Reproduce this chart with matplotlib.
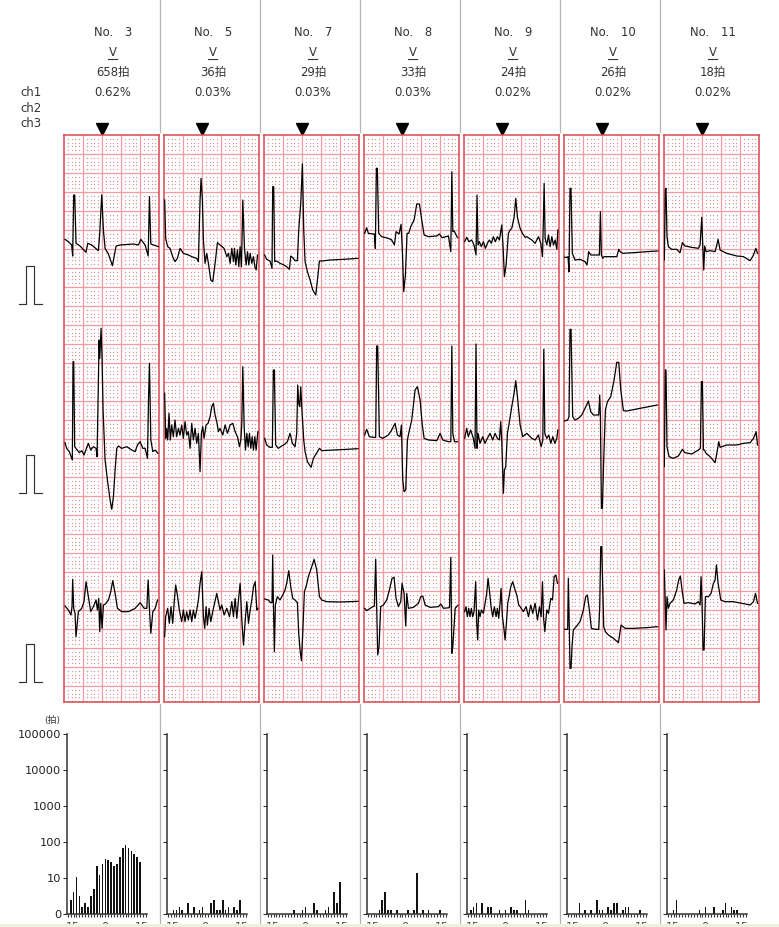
import matplotlib
matplotlib.use("Agg")
import matplotlib.pyplot as plt
from matplotlib.patches import Rectangle
import numpy as np

plt.rcParams['font.family'] = ['DejaVu Sans', 'Noto Sans CJK JP']

W, H = 779, 927

############################################### header data
numbers = [3, 5, 7, 8, 9, 10, 11]
beats = [658, 36, 29, 33, 24, 26, 18]
percents = ["0.62%", "0.03%", "0.03%", "0.03%", "0.02%", "0.02%", "0.02%"]
channels = ["ch1", "ch2", "ch3"]

############################################### histograms (bin index, beat count)
hist_idx_3 = list(range(1, 26))
hist_val_3 = [4, 6, 11, 5, 2, 3, 2, 5, 7, 21, 12, 24, 34, 32, 27, 21, 25, 39, 66, 82, 70, 56, 45, 39, 27]
hist_idx_5 = [2, 3, 4, 5, 7, 9, 11, 12, 15, 16, 17, 18, 19, 20, 21, 23, 24, 25]
hist_val_5 = [1, 1, 2, 1, 3, 2, 1, 2, 3, 4, 1, 1, 4, 1, 2, 2, 1, 4]
hist_idx_7 = [9, 12, 13, 16, 17, 20, 21, 23, 24, 25]
hist_val_7 = [1, 1, 2, 3, 1, 1, 2, 6, 3, 9]
hist_idx_8 = [4, 5, 6, 7, 8, 10, 14, 16, 17, 19, 21, 25]
hist_val_8 = [1, 4, 6, 1, 1, 1, 1, 1, 14, 1, 1, 1]
hist_idx_9 = [1, 2, 3, 5, 7, 8, 11, 13, 15, 16, 17, 20, 21]
hist_val_9 = [1, 2, 3, 3, 2, 2, 1, 1, 2, 1, 1, 4, 1]
hist_idx_10 = [4, 6, 8, 10, 11, 12, 14, 15, 16, 17, 19, 20, 21, 25]
hist_val_10 = [3, 1, 1, 4, 1, 1, 2, 1, 3, 3, 1, 2, 2, 1]
hist_idx_11 = [2, 3, 11, 13, 16, 19, 20, 22, 23, 24]
hist_val_11 = [1, 4, 1, 2, 2, 1, 3, 2, 1, 1]

hist_idx = [hist_idx_3, hist_idx_5, hist_idx_7, hist_idx_8, hist_idx_9, hist_idx_10, hist_idx_11]
hist_val = [hist_val_3, hist_val_5, hist_val_7, hist_val_8, hist_val_9, hist_val_10, hist_val_11]
hist_ticklabels = ["0", "10", "100", "1000", "10000", "100000"]

no3_ch1_x = [195,205,215,218,221,224,228,240,258,263,275,295,299,305,310,315,325,337,348,360,400,415,422,435,444,448,452,475]
no3_ch1_y = [718,725,735,768,585,585,730,738,757,730,735,752,700,585,690,745,762,797,738,735,732,735,718,735,768,590,732,740]
no3_ch2_x = [195,200,208,217,219,221,224,230,238,245,252,258,265,272,280,288,291,294,297,299,303,306,309,315,322,330,335,340,345,350,355,365,380,395,405,412,420,428,435,442,445,448,452,458,465,473]
no3_ch2_y = [428,445,455,480,185,185,440,448,458,452,465,448,430,450,440,445,470,300,120,175,85,175,330,480,540,600,628,590,510,445,438,445,440,450,455,435,425,445,445,475,300,190,420,455,450,460]
no3_ch3_x = [195,205,213,216,218,221,225,228,235,245,252,258,265,272,280,288,292,296,299,302,306,310,316,325,332,338,345,352,365,385,405,420,432,440,444,448,452,458,465,472]
no3_ch3_y = [918,930,945,920,838,925,940,1010,935,925,905,845,890,935,920,900,930,895,995,910,985,915,912,900,875,842,880,925,935,935,925,908,925,925,840,930,1000,935,925,900]

no5_ch1_x = [494,497,503,510,518,525,532,540,550,565,580,590,595,600,603,607,610,615,620,625,632,638,645,652,660,672,680,685,690,695,700,703,707,712,716,720,724,728,733,738,742,746,750,755,760,764,768,772]
no5_ch1_y = [600,715,740,745,770,785,775,745,760,765,772,775,785,600,535,600,720,790,760,790,840,845,790,728,735,745,770,760,790,745,785,745,795,750,800,740,800,600,745,795,755,795,760,790,770,800,810,765]
no5_ch2_x = [494,497,500,503,507,511,515,520,525,530,535,540,545,550,555,560,565,570,575,580,585,590,595,600,604,608,612,618,624,630,635,640,645,650,655,660,668,675,682,690,698,705,712,718,722,725,728,732,736,740,744,748,752,756,760,764,768,773]
no5_ch2_y = [280,415,385,420,340,420,375,410,360,410,385,405,375,415,365,405,395,445,370,420,385,430,400,515,400,380,415,375,370,350,320,310,345,365,395,385,405,375,400,375,370,395,410,440,420,370,200,380,450,400,440,400,445,410,450,410,450,395]
no5_ch3_x = [494,497,503,508,513,518,523,527,532,538,545,550,555,560,565,570,575,580,585,590,595,600,605,610,614,618,622,627,632,640,650,655,660,665,672,680,688,695,700,705,710,715,720,725,730,735,740,745,750,755,760,765,770,773]
no5_ch3_y = [1010,950,925,970,920,970,900,855,885,930,965,930,965,935,960,930,965,930,955,930,900,850,815,950,985,920,975,925,965,925,880,905,930,915,945,925,950,905,950,895,955,900,850,960,1035,965,905,970,930,900,860,845,930,925]

no7_ch1_x = [14,20,30,36,38,41,44,50,60,72,80,88,92,97,105,112,116,122,127,131,135,142,150,158,167,172,178,185,210,250,293]
no7_ch1_y = [375,388,393,415,170,170,395,393,400,405,410,418,378,382,392,392,300,220,102,300,395,425,450,480,495,450,393,393,390,388,385]
no7_ch2_x = [14,20,30,37,40,43,47,55,65,75,82,90,97,105,110,113,116,119,122,125,128,131,135,142,153,160,172,178,185,220,260,293]
no7_ch2_y = [55,75,82,82,-150,-150,75,85,78,72,65,40,70,80,40,-105,-50,-40,-100,-40,10,60,95,125,142,115,95,85,92,90,88,86]
no7_ch3_x = [14,25,32,36,38,40,43,46,52,60,68,75,80,86,92,98,105,112,116,120,124,128,133,138,145,155,162,170,178,185,200,240,293]
no7_ch3_y = [537,540,548,548,405,540,695,555,530,540,525,510,490,452,500,535,540,548,640,690,722,640,515,500,470,440,418,450,530,540,545,546,544]

no8_ch1_x = [314,320,325,340,343,346,349,352,356,365,385,395,403,408,417,423,427,431,436,441,446,452,462,470,478,485,492,505,530,538,546,565,572,575,578,582,592]
no8_ch1_y = [310,293,310,312,312,355,115,115,310,320,325,330,345,305,312,283,365,485,435,310,310,290,270,222,222,270,315,320,318,312,323,318,365,125,305,303,323]
no8_ch2_x = [314,320,328,340,347,350,353,358,368,385,395,405,412,420,424,428,432,437,442,448,455,465,472,480,486,492,505,530,540,548,565,572,575,578,583,592]
no8_ch2_y = [45,28,50,52,52,-222,-222,50,55,45,30,10,45,50,15,180,215,210,60,30,0,-90,-100,-60,10,55,60,62,40,60,65,65,-222,40,65,65]
no8_ch3_x = [314,320,335,343,347,350,353,357,362,370,380,388,396,402,408,415,422,426,432,437,440,445,460,475,482,488,495,510,535,542,550,568,572,575,578,585,593]
no8_ch3_y = [565,572,562,558,418,560,705,680,560,555,540,510,475,472,535,560,545,490,520,618,520,565,562,550,530,528,555,562,560,552,565,563,412,700,680,565,556]

no9_ch1_x = [614,620,627,635,642,648,651,654,658,664,670,676,682,688,694,700,706,712,718,725,729,733,738,745,750,755,762,767,772,780,787,795,800,815,825,835,842,847,850,852,855,860,865,870,875,880,885,890,893]
no9_ch1_y = [335,322,335,330,345,375,195,345,335,350,335,355,340,330,340,320,335,320,330,285,350,440,405,310,300,295,262,205,262,295,310,322,320,330,340,320,340,380,260,160,325,345,315,350,320,345,330,358,300]
no9_ch2_x = [614,620,625,632,640,645,648,651,654,660,668,675,682,690,698,705,712,718,722,725,730,733,737,742,748,755,762,767,772,780,788,800,815,825,835,843,848,851,854,860,866,872,878,884,890,893]
no9_ch2_y = [55,25,50,30,55,85,-228,85,40,70,50,70,55,40,60,40,55,60,5,60,220,150,140,40,5,-40,-80,-118,-70,15,50,40,55,60,45,80,60,-212,40,55,45,70,50,70,55,30]
no9_ch3_x = [614,618,622,626,630,634,638,642,647,650,653,656,660,664,670,676,680,684,688,693,698,703,708,712,716,720,723,727,731,735,739,743,747,752,758,765,770,776,780,790,798,805,812,818,825,832,838,843,847,850,854,860,865,872,877,882,887,892]
no9_ch3_y = [575,560,590,565,590,565,590,575,485,610,660,570,590,570,580,545,520,475,510,560,590,560,590,565,595,550,505,590,620,660,610,550,530,500,485,510,525,555,560,575,560,590,555,580,550,600,560,590,485,590,635,570,580,535,540,470,465,490]

no10_ch1_x = [133,140,144,147,150,153,157,165,180,195,201,206,212,225,238,241,244,248,252,270,290,296,300,308,340,380,412]
no10_ch1_y = [382,382,380,425,175,175,370,390,388,395,405,365,375,375,375,245,375,385,380,380,380,358,365,370,368,365,363]
no10_ch2_x = [133,143,147,150,153,158,165,175,185,195,205,212,220,236,239,241,244,247,250,256,262,272,282,290,296,302,310,320,360,412]
no10_ch2_y = [3,0,-10,-272,-272,-10,0,-5,-15,-35,-57,-25,-15,-15,-75,-15,265,265,150,-30,-55,-70,-120,-173,-173,-90,-28,-27,-35,-45]
no10_ch3_x = [133,143,145,148,150,153,156,160,170,180,190,197,202,208,214,225,236,239,242,245,248,251,256,265,280,295,303,315,340,380,412]
no10_ch3_y = [628,628,475,628,745,745,680,630,618,605,570,530,525,570,625,628,628,560,380,380,500,620,635,645,655,668,615,625,625,623,620]

no11_ch1_x = [433,436,438,441,445,455,470,480,487,495,515,535,540,545,548,551,554,558,570,585,590,594,600,620,650,670,690,700,707,712]
no11_ch1_y = [390,180,175,320,350,358,358,368,338,348,352,355,345,262,345,420,348,365,362,365,345,328,360,370,378,380,392,375,355,370]
no11_ch2_x = [433,436,438,441,447,460,475,487,495,515,535,541,544,547,550,553,558,570,585,592,596,600,620,650,670,690,700,708,712]
no11_ch2_y = [140,-150,-150,80,110,115,108,88,98,102,90,85,-115,-115,90,90,100,110,128,90,65,82,75,75,70,68,55,35,75]
no11_ch3_x = [433,435,438,441,445,450,460,470,476,481,486,492,505,525,535,540,543,546,549,552,556,565,573,580,585,589,594,602,615,640,665,690,700,706,712]
no11_ch3_y = [450,520,630,530,565,550,540,510,480,468,510,550,548,552,545,555,470,550,690,690,530,530,520,490,480,435,490,540,545,545,550,555,545,520,550]

waves = [
    [(no3_ch1_x, no3_ch1_y), (no3_ch2_x, no3_ch2_y), (no3_ch3_x, no3_ch3_y)],
    [(no5_ch1_x, no5_ch1_y), (no5_ch2_x, no5_ch2_y), (no5_ch3_x, no5_ch3_y)],
    [(no7_ch1_x, no7_ch1_y), (no7_ch2_x, no7_ch2_y), (no7_ch3_x, no7_ch3_y)],
    [(no8_ch1_x, no8_ch1_y), (no8_ch2_x, no8_ch2_y), (no8_ch3_x, no8_ch3_y)],
    [(no9_ch1_x, no9_ch1_y), (no9_ch2_x, no9_ch2_y), (no9_ch3_x, no9_ch3_y)],
    [(no10_ch1_x, no10_ch1_y), (no10_ch2_x, no10_ch2_y), (no10_ch3_x, no10_ch3_y)],
    [(no11_ch1_x, no11_ch1_y), (no11_ch2_x, no11_ch2_y), (no11_ch3_x, no11_ch3_y)],
]
# where each reading sheet started, per panel: x origin, then y origin of ch1 and of ch2/ch3
read_x0 = [192, 492, 12, 312, 612, 132, 432]
read_y0_ch1 = [405, 405, 15, 15, 15, 15, 15]
read_y0_rest = [-495, -495, -855, -855, -855, -855, -855]


def fig_box(left, top, right, bottom):
    return [left / W, 1 - bottom / H, (right - left) / W, (bottom - top) / H]


fig = plt.figure(figsize=(W / 100, H / 100), dpi=100, facecolor='white')

# full page layer for text, separators and the calibration pulses
page = fig.add_axes([0, 0, 1, 1], zorder=0)
page.set_xlim(0, W)
page.set_ylim(H, 0)
page.axis('off')

for i, (no, b, pct) in enumerate(zip(numbers, beats, percents)):
    cx = 113 + 100 * i
    page.text(cx, 32.5, "No.\u3000%d" % no, ha='center', va='center', fontsize=8.4, color='#333333')
    page.text(cx, 52.5, "V", ha='center', va='center', fontsize=8.4, color='#333333')
    page.plot([cx - 4.5, cx + 4.5], [59, 59], color='#333333', lw=0.8)
    page.text(cx, 72.5, "%d拍" % b, ha='center', va='center', fontsize=8.4, color='#333333')
    page.text(cx, 92.5, pct, ha='center', va='center', fontsize=8.4, color='#333333')
    page.plot([101.7 + 100 * i], [129], marker='v', ms=8, color='black', clip_on=False)
    if i < 6:
        sx = 160.5 + 100 * i
        page.plot([sx, sx], [0, 132], color='#b4b4b4', lw=0.9)
        page.plot([sx, sx], [704, 925], color='#b4b4b4', lw=0.9)

for name, y in zip(channels, [92.5, 108, 123]):
    page.text(20.5, y, name, ha='left', va='center', fontsize=8.4, color='#333333')

for base in [303.5, 492.5, 681.5]:
    page.plot([19, 26.5, 26.5, 34.5, 34.5, 42], [base, base, base - 37.5, base - 37.5, base, base],
              color='#333333', lw=0.85)

page.text(52, 720.5, "(拍)", ha='center', va='center', fontsize=6.5, color='#333333')

# bottom tick labels, almost all hidden by the strip
for i in range(7):
    for off, lab in zip([73, 105, 142], ["15", "0", "15"]):
        page.text(off + 100 * i, 922.5, lab, ha='center', va='top', fontsize=8, color='#444444')
page.add_patch(Rectangle((0, 924), W, 3, facecolor='#eef1dc', edgecolor='none', zorder=5))

# ecg panels
row_lines = np.arange(0, 1701, 57)
col_lines = np.arange(0, 283, 57)
dot_x = np.array([c + 57 * k / 5 for c in col_lines for k in range(1, 5)])
dot_y = np.array([r + 57 * k / 5 for r in row_lines for k in range(1, 5)])
dot_x = dot_x[dot_x < 283]
dot_y = dot_y[dot_y < 1701]
gx, gy = np.meshgrid(dot_x, dot_y)

for i in range(7):
    left = 64 + 100 * i
    ax = fig.add_axes(fig_box(left, 135, left + 94.5, 702), zorder=2)
    ax.set_xlim(0, 283)
    ax.set_ylim(1701, 0)
    ax.set_xticks(col_lines[1:])
    ax.set_yticks(row_lines[1:])
    ax.tick_params(length=0, labelbottom=False, labelleft=False)
    ax.grid(True, color='#f29aa1', lw=0.9)
    ax.set_axisbelow(True)
    ax.plot(gx.ravel(), gy.ravel(), ls='none', marker='s', ms=0.85, mew=0, color='#d9939a', zorder=1)
    for s in ax.spines.values():
        s.set_color('#d9484f')
        s.set_linewidth(1.1)
    for ch, (xs, ys) in enumerate(waves[i]):
        y0 = read_y0_ch1[i] if ch == 0 else read_y0_rest[i]
        ax.plot(np.array(xs) - read_x0[i], np.array(ys) - y0, color='black', lw=0.9, zorder=3)

# histograms, linear up to 10 and log above it
for i in range(7):
    left = 67 + 100 * i
    ax = fig.add_axes(fig_box(left, 734, left + 79.7, 914), zorder=2)
    ax.patch.set_alpha(0)
    ax.set_yscale('symlog', linthresh=10, linscale=0.9)
    ax.set_ylim(0, 100000)
    ax.set_xlim(-0.28, 27.3)
    ax.bar(hist_idx[i], hist_val[i], width=0.6, color='#111111')
    ax.spines['top'].set_visible(False)
    ax.spines['right'].set_visible(False)
    ax.spines['left'].set_linewidth(1.1)
    ax.spines['bottom'].set_linewidth(1.1)
    ax.spines['left'].set_color('#333333')
    ax.spines['bottom'].set_color('#333333')
    ax.set_xticks(np.arange(0, 28))
    ax.set_xticklabels([])
    ax.tick_params(axis='x', length=2, width=0.8, color='#333333')
    ax.set_yticks([0, 10, 100, 1000, 10000, 100000])
    ax.yaxis.set_minor_locator(plt.NullLocator())
    if i == 0:
        ax.set_yticklabels(hist_ticklabels, fontsize=8.2, color='#222222')
    else:
        ax.set_yticklabels([])
    ax.tick_params(axis='y', length=3, width=0.8, color='#333333', pad=1)

fig.savefig('out.png', dpi=100)
